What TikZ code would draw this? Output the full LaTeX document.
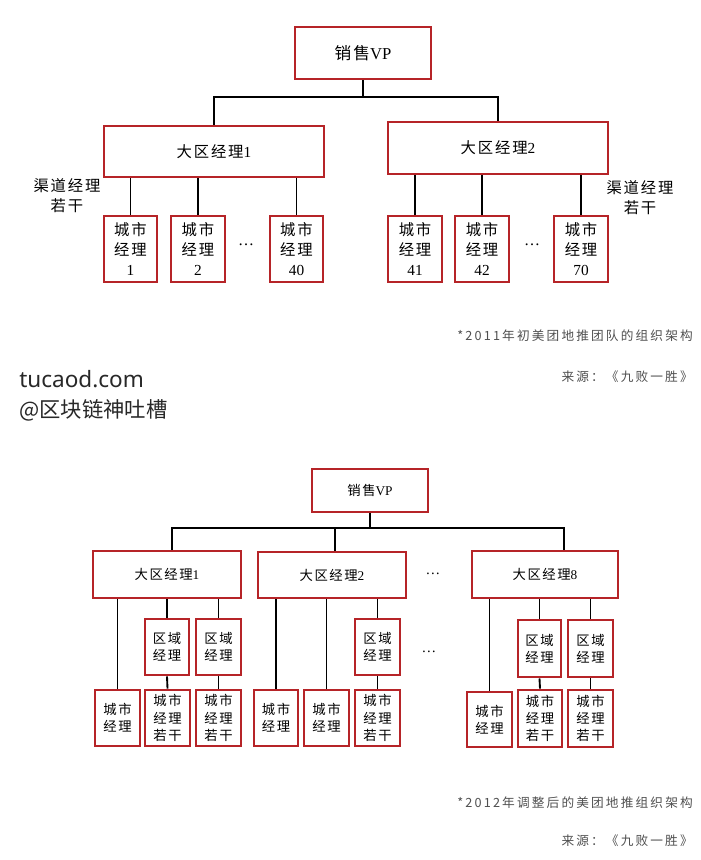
\documentclass[tikz,border=0pt]{standalone}
\usepackage{fontspec}
\setmainfont{Noto Sans CJK SC}
\newfontfamily\latf{Liberation Serif}
\newfontfamily\boxf[LetterSpace=12]{Noto Sans CJK SC}
\newfontfamily\capf[LetterSpace=17]{Noto Sans CJK SC}
\newfontfamily\wmf{Noto Sans}
\definecolor{boxred}{RGB}{182,36,40}
\definecolor{capgray}{RGB}{80,80,80}
\definecolor{wmgray}{RGB}{40,40,40}
\newcommand\bx[7]{%
  \node[box,#6,minimum width={(#4-#2)*0.75pt},minimum height={(#5-#3)*0.75pt}] (#1) at ({(#2+#4)/2},{(#3+#5)/2}) {#7};}
\tikzset{
  box/.style={draw=boxred, line width=2.2pt, fill=white, inner sep=0pt, align=center},
  tA/.style={font=\boxf\fontsize{11.5}{15}\selectfont},
  tAv/.style={font=\boxf\fontsize{12.5}{15}\selectfont},
  tB/.style={font=\boxf\fontsize{10}{13}\selectfont},
  conn/.style={draw=black, line width=1.4pt},
  bus/.style={draw=black, line width=1.9pt},
  capt/.style={anchor=east, text=capgray, font=\capf\fontsize{9.5}{11}\selectfont, inner sep=0pt},
  plain/.style={inner sep=0pt, align=center}
}
\begin{document}
\begin{tikzpicture}[x=0.75pt,y=-0.75pt]
\useasboundingbox (0,0) rectangle (700,860);
\fill[white] (0,0) rectangle (700,860);

% ---------- top diagram ----------
\bx{vp}{295}{27}{431}{79}{tAv}{销售{\latf VP}}
\coordinate (bus1) at (363,97);
\bx{ra}{104}{126}{324}{177}{tA}{大区经理{\latf 1}}
\bx{rb}{388}{122}{608}{174}{tA}{大区经理{\latf 2}}
\draw[bus] (vp.south) -- (bus1);
\draw[bus] (ra.north) |- (bus1) -| (rb.north);

\bx{c1}{104}{216}{157}{282}{tA}{城市\\经理\\{\latf 1}}
\bx{c2}{171}{216}{225}{282}{tA}{城市\\经理\\{\latf 2}}
\bx{c40}{270}{216}{323}{282}{tA}{城市\\经理\\{\latf 40}}
\bx{c41}{388}{216}{442}{282}{tA}{城市\\经理\\{\latf 41}}
\bx{c42}{455}{216}{509}{282}{tA}{城市\\经理\\{\latf 42}}
\bx{c70}{554}{216}{608}{282}{tA}{城市\\经理\\{\latf 70}}
\foreach \c in {c1,c2,c40} \draw[conn] (ra.south -| \c.north) -- (\c.north);
\foreach \c in {c41,c42,c70} \draw[conn] (rb.south -| \c.north) -- (\c.north);

\node[plain, font=\latf\fontsize{12}{14}\selectfont] (d1) at (246,245) {…};
\node[plain, font=\latf\fontsize{12}{14}\selectfont] (d2) at (532,245) {…};
\node[plain, tA] (qd1) at (67,196) {渠道经理\\若干};
\node[plain, tA] (qd2) at (640,198) {渠道经理\\若干};

% ---------- captions / watermark ----------
\node[capt] (cap1) at (693,336) {*2011年初美团地推团队的组织架构};
\node[capt] (src1) at (693,377) {来源：《九败一胜》};
\node[anchor=west, inner sep=0pt, text=wmgray, font=\wmf\fontsize{16.9}{20}\selectfont] (wm1) at (19,379) {tucaod.com};
\node[anchor=west, inner sep=0pt, text=wmgray, font=\fontsize{16}{20}\selectfont] (wm2) at (19,410) {@区块链神吐槽};

% ---------- bottom diagram ----------
\bx{vq}{312}{469}{428}{512}{tB}{销售{\latf VP}}
\coordinate (bus2) at (370,528);
\coordinate (b2L) at (172,528);
\coordinate (b2M) at (335,528);
\coordinate (b2R) at (564,528);
\bx{R1}{93}{551}{241}{598}{tB}{大区经理{\latf 1}}
\bx{R2}{258}{552}{406}{598}{tB}{大区经理{\latf 2}}
\bx{R8}{472}{551}{618}{598}{tB}{大区经理{\latf 8}}
\draw[conn] (vq.south) -- (bus2);
\draw[conn] (b2L |- R1.north) -- (b2L) -- (b2R) -- (b2R |- R8.north);
\draw[conn] (b2M) -- (b2M |- R2.north);
\node[plain, font=\latf\fontsize{11}{13}\selectfont] (d3) at (433,574) {…};
\node[plain, font=\latf\fontsize{11}{13}\selectfont] (d4) at (429,652) {…};

% group 1
\bx{q11}{145}{619}{189}{675}{tB}{区域\\经理}
\bx{q12}{196}{619}{241}{675}{tB}{区域\\经理}
\bx{k1}{95}{690}{140}{746}{tB}{城市\\经理}
\bx{k11}{145}{690}{190}{746}{tB}{城市\\经理\\若干}
\bx{k12}{196}{690}{241}{746}{tB}{城市\\经理\\若干}
\draw[conn] (R1.south -| k1.north) -- (k1.north);
\draw[conn] (R1.south -| q11.north) -- (q11.north);
\draw[conn] (R1.south -| q12.north) -- (q12.north);
\draw[conn] (q11.south) -- (k11.north);
\draw[conn] (q12.south) -- (k12.north);

% group 2
\bx{q21}{355}{619}{400}{675}{tB}{区域\\经理}
\bx{k21}{254}{690}{298}{746}{tB}{城市\\经理}
\bx{k22}{304}{690}{349}{746}{tB}{城市\\经理}
\bx{k23}{355}{690}{400}{746}{tB}{城市\\经理\\若干}
\draw[conn] (R2.south -| k21.north) -- (k21.north);
\draw[conn] (R2.south -| k22.north) -- (k22.north);
\draw[conn] (R2.south -| q21.north) -- (q21.north);
\draw[conn] (q21.south) -- (k23.north);

% group 8
\bx{q81}{518}{620}{561}{677}{tB}{区域\\经理}
\bx{q82}{568}{620}{613}{677}{tB}{区域\\经理}
\bx{k81}{467}{692}{512}{747}{tB}{城市\\经理}
\bx{k82}{518}{690}{562}{747}{tB}{城市\\经理\\若干}
\bx{k83}{568}{690}{613}{747}{tB}{城市\\经理\\若干}
\draw[conn] (R8.south -| k81.north) -- (k81.north);
\draw[conn] (R8.south -| q81.north) -- (q81.north);
\draw[conn] (R8.south -| q82.north) -- (q82.north);
\draw[conn] (q81.south) -- (k82.north);
\draw[conn] (q82.south) -- (k83.north);

\node[capt] (cap2) at (693,803) {*2012年调整后的美团地推组织架构};
\node[capt] (src2) at (693,841) {来源：《九败一胜》};
\end{tikzpicture}
\end{document}
